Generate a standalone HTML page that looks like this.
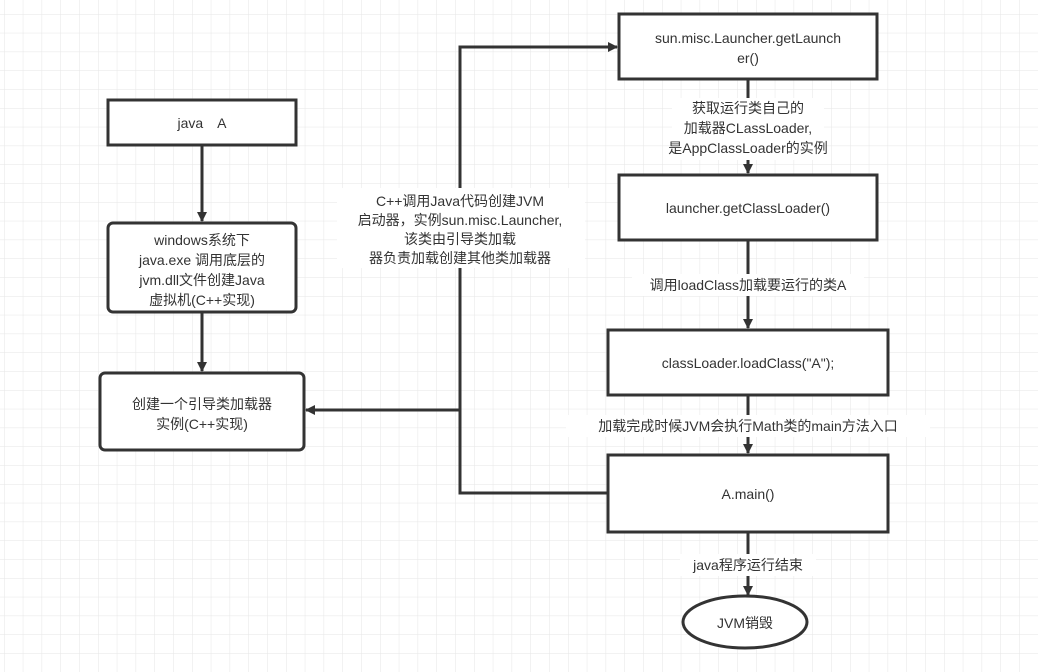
<!DOCTYPE html>
<html><head><meta charset="utf-8"><style>
html,body{margin:0;padding:0;background:#fff}
svg{display:block}
text{font-family:"Liberation Sans","Noto Sans CJK SC",sans-serif;font-size:14px;fill:#333}
</style></head><body>
<svg width="1038" height="672" viewBox="0 0 1038 672" xmlns="http://www.w3.org/2000/svg">
<defs>
<pattern id="g" x="4" y="14" width="18.8" height="18.8" patternUnits="userSpaceOnUse">
<path d="M0 0H18.8M0 0V18.8" stroke="#e6e6e6" stroke-width="1" fill="none"/>
</pattern>
<marker id="a" markerWidth="10" markerHeight="10" refX="9" refY="5" orient="auto" markerUnits="userSpaceOnUse">
<path d="M0 0L10 5L0 10Z" fill="#333"/>
</marker>
</defs>
<rect width="1038" height="672" fill="#fff"/>
<rect width="1038" height="672" fill="url(#g)"/>
<g stroke="#333" stroke-width="3" fill="none">
<line x1="202" y1="145" x2="202" y2="221" marker-end="url(#a)"/>
<line x1="202" y1="312" x2="202" y2="371" marker-end="url(#a)"/>
<polyline points="608,493 460,493 460,47 617,47" marker-end="url(#a)"/>
<line x1="460" y1="410" x2="306" y2="410" marker-end="url(#a)"/>
<line x1="748" y1="79" x2="748" y2="173" marker-end="url(#a)"/>
<line x1="748" y1="240" x2="748" y2="328" marker-end="url(#a)"/>
<line x1="748" y1="395" x2="748" y2="453" marker-end="url(#a)"/>
<line x1="748" y1="532" x2="748" y2="595" marker-end="url(#a)"/>
</g>
<g stroke="#333" stroke-width="3" fill="#fff">
<rect x="108" y="100" width="188" height="45"/>
<rect x="108" y="223" width="188" height="89" rx="5"/>
<rect x="100" y="373" width="204" height="77" rx="5"/>
<rect x="619" y="14" width="258" height="65"/>
<rect x="619" y="175" width="258" height="65"/>
<rect x="608" y="330" width="280" height="65"/>
<rect x="608" y="455" width="280" height="77"/>
<ellipse cx="745" cy="622" rx="62" ry="26"/>
</g>
<g fill="#fff">
<rect x="337" y="188" width="248" height="80"/>
<rect x="672" y="98" width="152" height="62"/>
<rect x="632" y="274" width="232" height="22"/>
<rect x="566" y="415" width="364" height="22"/>
<rect x="680" y="554" width="136" height="22"/>
</g>
<g text-anchor="middle">
<text x="202" y="128">java　A</text>
<text x="202" y="245">windows系统下</text>
<text x="202" y="265">java.exe 调用底层的</text>
<text x="202" y="285">jvm.dll文件创建Java</text>
<text x="202" y="305">虚拟机(C++实现)</text>
<text x="202" y="409">创建一个引导类加载器</text>
<text x="202" y="429">实例(C++实现)</text>
<text x="460" y="206">C++调用Java代码创建JVM</text>
<text x="460" y="225">启动器，实例sun.misc.Launcher,</text>
<text x="460" y="244">该类由引导类加载</text>
<text x="460" y="263">器负责加载创建其他类加载器</text>
<text x="748" y="43">sun.misc.Launcher.getLaunch</text>
<text x="748" y="63">er()</text>
<text x="748" y="113">获取运行类自己的</text>
<text x="748" y="133">加载器CLassLoader,</text>
<text x="748" y="153">是AppClassLoader的实例</text>
<text x="748" y="213">launcher.getClassLoader()</text>
<text x="748" y="290">调用loadClass加载要运行的类A</text>
<text x="748" y="368">classLoader.loadClass("A");</text>
<text x="748" y="431">加载完成时候JVM会执行Math类的main方法入口</text>
<text x="748" y="499">A.main()</text>
<text x="748" y="570">java程序运行结束</text>
<text x="745" y="628">JVM销毁</text>
</g>
</svg>
</body></html>
